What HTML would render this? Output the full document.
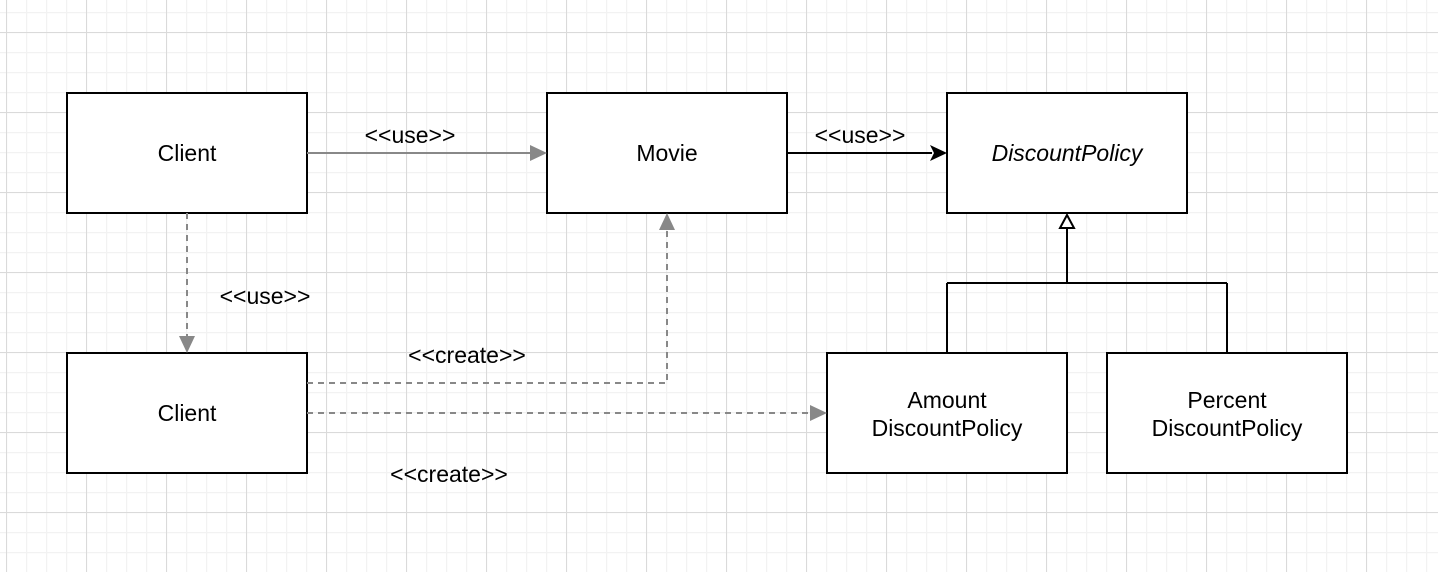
<!DOCTYPE html>
<html><head><style>
html,body{margin:0;padding:0;background:#fff;}
svg{display:block;}
text{font-family:"Liberation Sans",Arial,sans-serif;font-size:23px;fill:#000;}
</style></head><body>
<svg width="1438" height="572" xmlns="http://www.w3.org/2000/svg">
<defs>
<pattern id="minor" width="20" height="20" patternUnits="userSpaceOnUse" x="6" y="12">
<path d="M0 0.5H20M0.5 0V20" stroke="#f2f2f2" stroke-width="1.5" fill="none"/>
</pattern>
<pattern id="major" width="80" height="80" patternUnits="userSpaceOnUse" x="6" y="32">
<path d="M0 0.5H80M0.5 0V80" stroke="#dadada" stroke-width="1" fill="none"/>
</pattern>
</defs>
<rect width="1438" height="572" fill="url(#minor)"/>
<rect width="1438" height="572" fill="url(#major)"/>

<g fill="#fff" stroke="#000" stroke-width="2">
<rect x="67" y="93" width="240" height="120"/>
<rect x="547" y="93" width="240" height="120"/>
<rect x="947" y="93" width="240" height="120"/>
<rect x="67" y="353" width="240" height="120"/>
<rect x="827" y="353" width="240" height="120"/>
<rect x="1107" y="353" width="240" height="120"/>
</g>
<g text-anchor="middle">
<text x="187" y="161">Client</text>
<text x="667" y="161">Movie</text>
<text x="1067" y="161" font-style="italic">DiscountPolicy</text>
<text x="187" y="421">Client</text>
<text x="947" y="408">Amount</text>
<text x="947" y="436">DiscountPolicy</text>
<text x="1227" y="408">Percent</text>
<text x="1227" y="436">DiscountPolicy</text>
<text x="410" y="143">&lt;&lt;use&gt;&gt;</text>
<text x="860" y="143">&lt;&lt;use&gt;&gt;</text>
<text x="265" y="304">&lt;&lt;use&gt;&gt;</text>
<text x="467" y="363">&lt;&lt;create&gt;&gt;</text>
<text x="449" y="482">&lt;&lt;create&gt;&gt;</text>
</g>

<path d="M307 153H532" stroke="#888" stroke-width="2" fill="none"/>
<path d="M547 153L530 145L530 161Z" fill="#888"/>
<path d="M787 153H932" stroke="#000" stroke-width="2" fill="none"/>
<path d="M947 153L930 145L934 153L930 161Z" fill="#000"/>
<path d="M1067 228V283M947 283H1227M947 283V353M1227 283V353" stroke="#000" stroke-width="2" fill="none"/>
<path d="M1067 215L1060 228H1074Z" fill="#fff" stroke="#000" stroke-width="2"/>
<g stroke="#888" stroke-width="2" fill="none" stroke-dasharray="6 5">
<path d="M187 213V338"/>
<path d="M307 383H667V228"/>
<path d="M307 413H812"/>
</g>
<g fill="#888">
<path d="M187 353L179 336L195 336Z"/>
<path d="M667 213L659 230L675 230Z"/>
<path d="M827 413L810 405L810 421Z"/>
</g>
</svg>
</body></html>
